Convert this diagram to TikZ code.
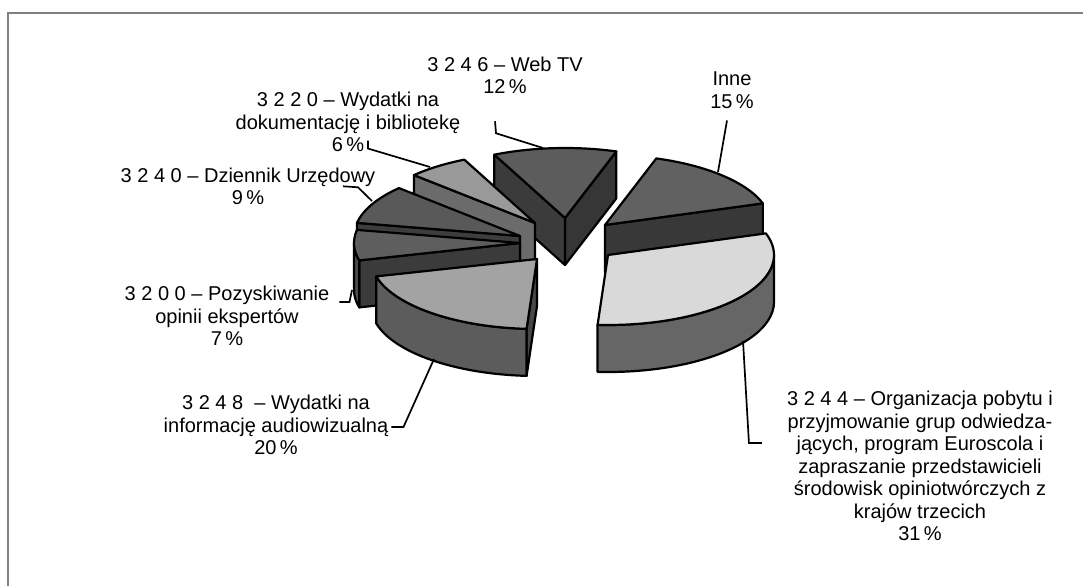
\documentclass[tikz,border=0pt]{standalone}
\usepackage{fontspec}
\setmainfont{Liberation Sans}
\usepackage{tikz}

\definecolor{webtop}{gray}{0.36}
\definecolor{webleft}{gray}{0.23}
\definecolor{webright}{gray}{0.21}
\definecolor{innetop}{gray}{0.38}
\definecolor{inneside}{gray}{0.22}
\definecolor{orgtop}{gray}{0.85}
\definecolor{orgrim}{gray}{0.40}
\definecolor{avtop}{gray}{0.64}
\definecolor{avrim}{gray}{0.36}
\definecolor{avside}{gray}{0.28}
\definecolor{expttop}{gray}{0.37}
\definecolor{exptside}{gray}{0.23}
\definecolor{exptrim}{gray}{0.30}
\definecolor{djtop}{gray}{0.35}
\definecolor{djside}{gray}{0.24}
\definecolor{doctop}{gray}{0.60}
\definecolor{docside}{gray}{0.42}

\newcommand\pierx{166}
\newcommand\piery{70}
\newcommand\pieh{47}
% top face: cx, cy, from, to, colour
\newcommand\slicetop[5]{%
  \filldraw[pieline,fill=#5] (#1,#2) -- ({#1+\pierx*cos(#3)},{#2+\piery*sin(#3)})
    arc[start angle=#3,end angle=#4,x radius=\pierx,y radius=\piery] -- cycle;}
% outer wall: cx, cy, from, to, colour
\newcommand\slicerim[5]{%
  \filldraw[pieline,fill=#5] ({#1+\pierx*cos(#3)},{#2+\piery*sin(#3)})
    arc[start angle=#3,end angle=#4,x radius=\pierx,y radius=\piery]
    -- ++(0,-\pieh)
    arc[start angle=#4,end angle=#3,x radius=\pierx,y radius=\piery] -- cycle;}
% cut face: cx, cy, angle, colour
\newcommand\sliceside[4]{%
  \filldraw[pieline,fill=#4] (#1,#2) -- ++({\pierx*cos(#3)},{\piery*sin(#3)})
    -- ++(0,-\pieh) -- ++({-\pierx*cos(#3)},{-\piery*sin(#3)}) -- cycle;}

\begin{document}
\begin{tikzpicture}[x=1pt,y=1pt,
    pieline/.style={draw=black, line width=2.2pt, line join=round},
    leader/.style={draw=black, line width=1.7pt},
    lbl/.style={align=center, inner sep=0pt,
        font=\fontsize{20}{22.5}\selectfont},
    frame/.style={draw=black!50, line width=1.4pt}
    ]
\useasboundingbox (0,0) rectangle (1083,-586);
\draw[frame] (8,-586) -- (8,-13) -- (1083,-13);

% back slices
% Web TV
\sliceside{565}{-218}{72}{webright}
\sliceside{565}{-218}{115.2}{webleft}
\slicetop{565}{-218}{72}{115.2}{webtop}
% dokumentacja
\sliceside{535}{-223}{136.8}{docside}
\slicetop{535}{-223}{115.2}{136.8}{doctop}
% Inne
\sliceside{605}{-225}{18}{inneside}
\slicetop{605}{-225}{18}{72}{innetop}
% Dziennik
\sliceside{520}{-236}{169.2}{djside}
\slicetop{520}{-236}{136.8}{169.2}{djtop}
% eksperci
\sliceside{520}{-243}{194.4}{exptside}
\slicerim{520}{-243}{180}{194.4}{exptrim}
\slicetop{520}{-243}{169.2}{194.4}{expttop}
% front slices
% Organizacja pobytu
\slicerim{608}{-255}{-93.6}{0}{orgrim}
\slicetop{608}{-255}{-93.6}{18}{orgtop}
% audiowizualna
\sliceside{537}{-259}{-93.6}{avside}
\slicerim{537}{-259}{-165.6}{-93.6}{avrim}
\slicetop{537}{-259}{-165.6}{-93.6}{avtop}

% leader ends on the pie
\coordinate (pweb) at (543,-148);
\coordinate (pinne) at (718,-172);
\coordinate (pdoc) at (430,-167);
\coordinate (pdj) at (372,-201);
\coordinate (pexpt) at (352,-290);
\coordinate (pav) at (434,-359);
\coordinate (porg) at (743,-341);

% labels
\node[lbl] (lweb) at (505,-75.5) {3 2 4 6 – Web TV\\12\,\%};
\node[lbl] (linne) at (732,-90) {Inne\\15\,\%};
\node[lbl] (ldoc) at (348,-122) {3 2 2 0 – Wydatki na\\dokumentację i bibliotekę\\6\,\%};
\node[lbl] (ldj) at (248,-186.5) {3 2 4 0 – Dziennik Urzędowy\\9\,\%};
\node[lbl] (lexpt) at (227,-316) {3 2 0 0 – Pozyskiwanie\\opinii ekspertów\\7\,\%};
\node[lbl] (lav) at (276,-425) {3 2 4 8 \ – Wydatki na\\informację audiowizualną\\20\,\%};
\node[lbl] (lorg) at (920,-466) {3 2 4 4 – Organizacja pobytu i\\
    przyjmowanie grup odwiedza-\\jących, program Euroscola i\\
    zapraszanie przedstawicieli\\środowisk opiniotwórczych z\\
    krajów trzecich\\31\,\%};

% leader lines
\draw[leader] ([xshift=-10pt,yshift=-27pt]lweb.south) -- ++(1,-12) -- (pweb);
\draw[leader] ([xshift=-5pt,yshift=-12pt]linne.south) -- (pinne);
\draw[leader] ([xshift=20pt,yshift=11.5pt]ldoc.south) -- ++(0,-8) -- (pdoc);
\draw[leader] ([xshift=95pt,yshift=19pt]ldj.south) -- ++(15,-1) -- (pdj);
\draw[leader] ([xshift=10pt,yshift=14pt]lexpt.east) -- ++(10,0) -- (pexpt);
\draw[leader] ([xshift=3pt,yshift=-2pt]lav.east) -- ++(12,0) -- (pav);
\draw[leader] ([xshift=-25pt,yshift=23pt]lorg.west) -- ++(-13,0) -- (porg);
\end{tikzpicture}
\end{document}
